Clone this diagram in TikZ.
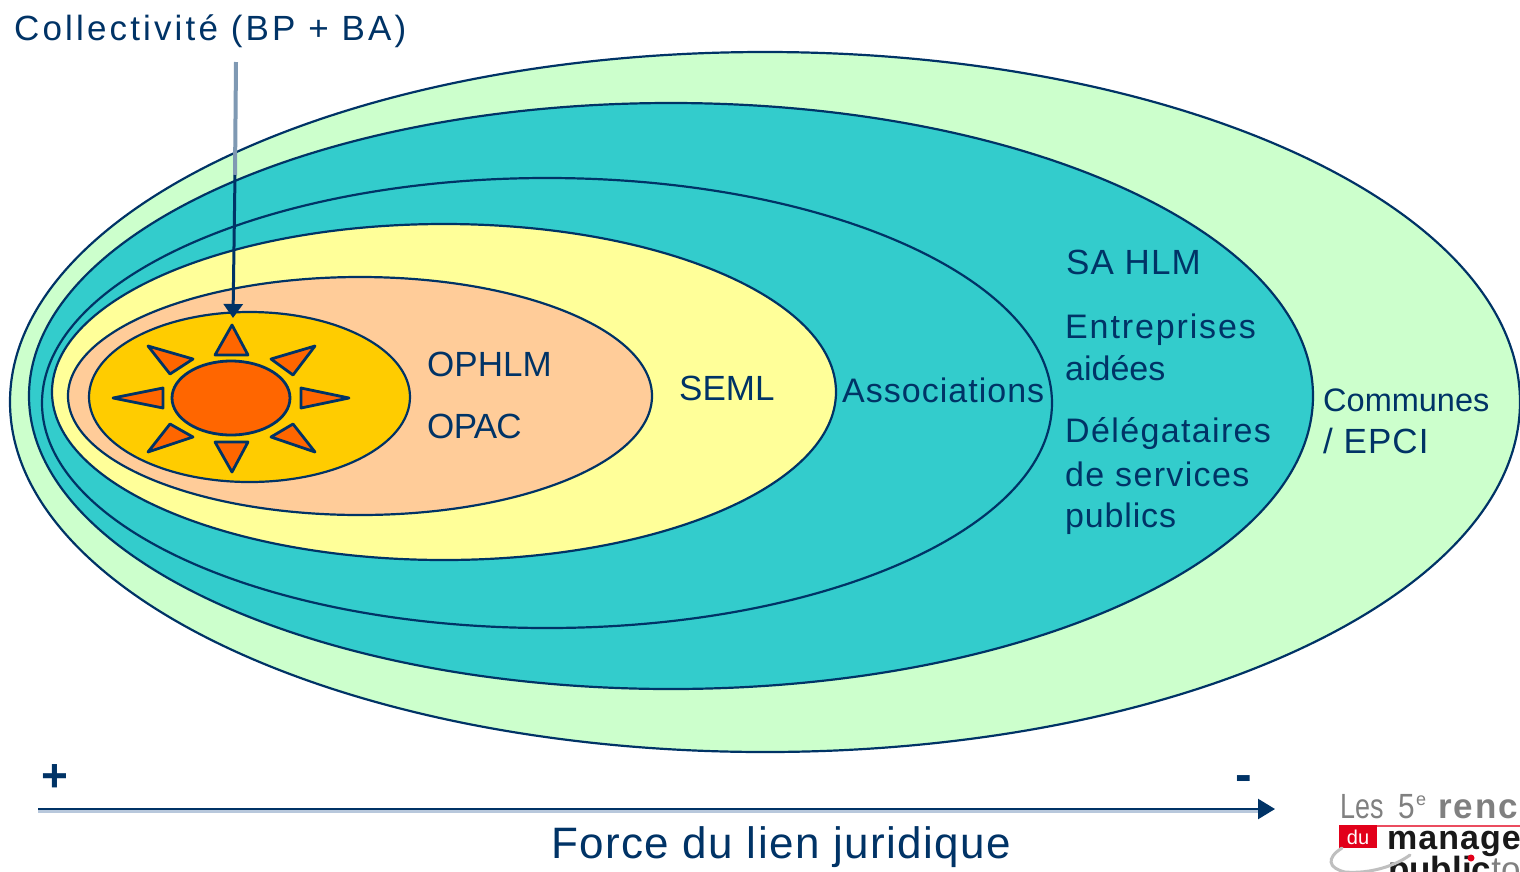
\documentclass[tikz,border=0pt]{standalone}
\usepackage{fontspec}
\setmainfont{Liberation Sans}
\usetikzlibrary{arrows.meta}
\definecolor{navy}{HTML}{003366}
\definecolor{navysoft}{HTML}{7F99B3}
\definecolor{navypale}{HTML}{B8C8DC}
\definecolor{cgreen}{HTML}{CCFFCC}
\definecolor{cteal}{HTML}{33CCCC}
\definecolor{cyellow}{HTML}{FFFF99}
\definecolor{cpeach}{HTML}{FFCC99}
\definecolor{cgold}{HTML}{FFCC00}
\definecolor{corange}{HTML}{FF6600}
\definecolor{cgrey}{HTML}{808080}
\definecolor{cred}{HTML}{E2001A}
\newcommand{\spaced}[2]{{\addfontfeature{LetterSpace=#1}#2}}
\tikzset{
  x=1pt,y=-1pt,
  zone/.style={draw=navy,line width=2.2pt},
  ray/.style={draw=navy,fill=corange,line width=2.8pt,line join=round},
  lab/.style={text=navy,font=\fontsize{35}{40}\selectfont,anchor=west,inner sep=0pt},
  smalllab/.style={text=navy,font=\fontsize{34}{40}\selectfont,anchor=west,inner sep=0pt},
  link/.style={draw=navy,line width=3pt,-{Triangle[length=14pt,width=19pt]}},
  logotext/.style={anchor=base west,inner sep=0pt},
}
\begin{document}
\begin{tikzpicture}
\useasboundingbox (0,0) rectangle (1520,871);
\clip (0,0) rectangle (1520,871);
\fill[white] (0,0) rectangle (1520,871);
% zones
\draw[zone,fill=cgreen] (765,402) ellipse [x radius=755,y radius=350];
\draw[zone,fill=cteal] (671,396) ellipse [x radius=642,y radius=293];
\draw[zone,fill=cteal] (547,403) ellipse [x radius=505,y radius=225];
\draw[zone,fill=cyellow] (444,392) ellipse [x radius=392,y radius=168];
\draw[zone,fill=cpeach] (360,396) ellipse [x radius=292,y radius=119];
\draw[zone,fill=cgold] (249.5,397) ellipse [x radius=160.5,y radius=85];
% sun
\draw[ray] (231,398) ellipse [x radius=59,y radius=37];
\draw[ray] (232,325) -- (248,355) -- (215,355) -- cycle;
\draw[ray] (232,472) -- (248,442) -- (215,442) -- cycle;
\draw[ray] (113,398) -- (163,388) -- (163,408) -- cycle;
\draw[ray] (349,398) -- (301,388) -- (301,408) -- cycle;
\draw[ray] (148,346) -- (193,359) -- (170,374) -- cycle;
\draw[ray] (315,346) -- (271,359) -- (293,375) -- cycle;
\draw[ray] (148,452) -- (170,424) -- (193,437) -- cycle;
\draw[ray] (315,452) -- (293,424) -- (271,437) -- cycle;
% labels
\node[lab] (coll) at (14,31) {\spaced{9}{Collectivité (BP + BA)}};
\coordinate (collend) at (236,62);
\coordinate (collmid) at (235,175);
\coordinate (suntop) at (233,318);
\draw[navysoft,line width=4pt] (collend) -- (collmid);
\draw[link] (collmid) -- (suntop);
\node[lab] (ophlm) at (427,364) {OPHLM};
\node[lab] (opac) at (427,426) {\spaced{-2}{OPAC}};
\node[lab] (seml) at (679,388) {SEML};
\node[smalllab] (assoc) at (842,390) {\spaced{3}{Associations}};
\node[lab] (sahlm) at (1066,262) {\spaced{3}{SA HLM}};
\node[smalllab] (entr) at (1065,330) {\spaced{5.5}{Entreprises}};
\node[smalllab] (aid) at (1065,368) {aidées};
\node[smalllab] (del) at (1065,434) {\spaced{4}{Délégataires}};
\node[smalllab] (serv) at (1065,474) {\spaced{4}{de services}};
\node[smalllab] (pub) at (1065,519) {\spaced{2.5}{publics}};
\node[smalllab,font=\fontsize{32.5}{40}\selectfont] (comm) at (1323,400) {Communes};
\node[lab] (epci) at (1323,441) {\spaced{3}{/ EPCI}};
% axis
\coordinate (axisa) at (38,809);
\coordinate (axisb) at (1275,809);
\coordinate (axisc) at (38,811);
\coordinate (axisd) at (1262,811);
\draw[navypale,line width=4pt] (axisc) -- (axisd);
\draw[draw=navy,line width=2.4pt,-{Triangle[length=17pt,width=20pt]}] (axisa) -- (axisb);
\node[text=navy,font=\fontsize{46}{50}\bfseries\selectfont,inner sep=0pt] (plus) at (55,778) {+};
\node[text=navy,font=\fontsize{50}{50}\bfseries\selectfont,inner sep=0pt] (minus) at (1244,784) {-};
\node[text=navy,font=\fontsize{44}{50}\selectfont,inner sep=0pt] (force) at (781,847) {\spaced{3.2}{Force du lien juridique}};
% logo
\node[logotext,text=cgrey,font=\fontsize{35}{36}\selectfont] (les) at (1340,818) {\scalebox{0.77}[1]{Les}};
\node[logotext,text=cgrey,font=\fontsize{35}{36}\selectfont] (five) at (1398,818) {\scalebox{0.85}[1]{5}};
\node[logotext,text=cgrey,font=\fontsize{18}{20}\selectfont] (sup) at (1416,805) {e};
\node[logotext,text=cgrey,font=\fontsize{35}{36}\bfseries\selectfont] (renc) at (1438,818) {\spaced{6}{renc}};
\fill[cred] (1339,825) rectangle (1377,848);
\draw[cred!70,line width=1.4pt] (1377,826) -- (1520,826);
\node[text=white,font=\fontsize{20}{22}\selectfont,inner sep=0pt] (du) at (1358,837) {du};
\node[logotext,text=black!90,font=\fontsize{34}{36}\bfseries\selectfont] (man) at (1387,849) {\spaced{3}{manage}};
\node[logotext,text=black!90,font=\fontsize{35}{36}\bfseries\selectfont] (pubs) at (1388,881) {public\textcolor{cgrey}{\mdseries to}};
\fill[cred] (1471,858) circle (3.5);
\draw[lightgray,line width=3pt,line cap=round] (1342,848) .. controls (1326,858) and (1328,868) .. (1345,872) .. controls (1370,874) and (1395,866) .. (1410,855);
\end{tikzpicture}
\end{document}
